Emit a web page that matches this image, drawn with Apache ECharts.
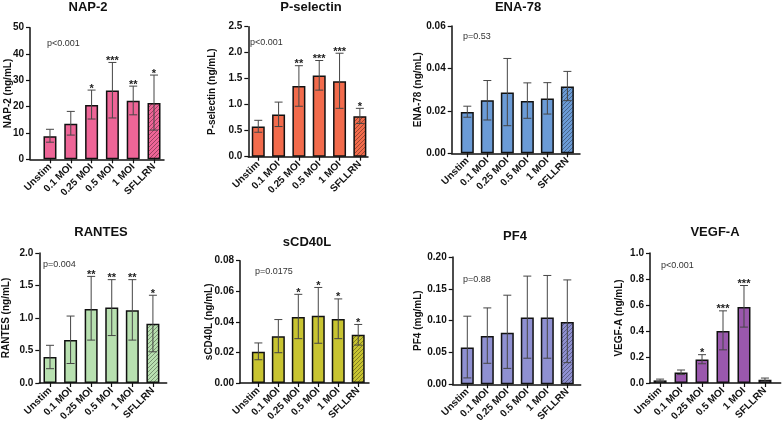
<!DOCTYPE html>
<html><head><meta charset="utf-8">
<script src="https://cdn.jsdelivr.net/npm/echarts@6/dist/echarts.min.js"></script>
<style>html,body{margin:0;padding:0;background:#fff}#c{width:782px;height:426px}</style>
</head><body><div id="c"></div><script>
const categories = ['Unstim', '0.1 MOI', '0.25 MOI', '0.5 MOI', '1 MOI', 'SFLLRN'];

const nap2Mean  = [8.8, 13.5, 20.6, 26.1, 22.2, 21.4];
const nap2Low   = [6.5, 9.2, 15.3, 15.7, 16.9, 11.1];
const nap2High  = [11.4, 18.2, 26.3, 36.8, 27.8, 32.0];
const nap2Stars = ['', '', '*', '***', '**', '*'];

const pselMean  = [0.58, 0.81, 1.36, 1.56, 1.45, 0.78];
const pselLow   = [0.47, 0.58, 0.97, 1.28, 0.93, 0.64];
const pselHigh  = [0.70, 1.05, 1.75, 1.85, 1.99, 0.93];
const pselStars = ['', '', '**', '***', '***', '*'];

const ena78Mean  = [0.0195, 0.0250, 0.0286, 0.0247, 0.0258, 0.0315];
const ena78Low   = [0.0170, 0.0157, 0.0130, 0.0165, 0.0185, 0.0248];
const ena78High  = [0.0222, 0.0343, 0.0447, 0.0332, 0.0333, 0.0386];
const ena78Stars = ['', '', '', '', '', ''];

const rantesMean  = [0.40, 0.66, 1.14, 1.16, 1.12, 0.91];
const rantesLow   = [0.22, 0.30, 0.66, 0.73, 0.66, 0.48];
const rantesHigh  = [0.58, 1.03, 1.64, 1.59, 1.59, 1.35];
const rantesStars = ['', '', '**', '**', '**', '*'];

const scd40lMean  = [0.0205, 0.0305, 0.0432, 0.0440, 0.0418, 0.0315];
const scd40lLow   = [0.0152, 0.0198, 0.0290, 0.0260, 0.0290, 0.0248];
const scd40lHigh  = [0.0262, 0.0415, 0.0580, 0.0625, 0.0550, 0.0383];
const scd40lStars = ['', '', '*', '*', '*', '*'];

const pf4Mean  = [0.058, 0.076, 0.081, 0.105, 0.105, 0.098];
const pf4Low   = [0.010, 0.033, 0.025, 0.041, 0.041, 0.034];
const pf4High  = [0.107, 0.120, 0.140, 0.170, 0.171, 0.164];
const pf4Stars = ['', '', '', '', '', ''];

const vegfMean  = [0.020, 0.080, 0.180, 0.400, 0.585, 0.025];
const vegfLow   = [0.010, 0.065, 0.148, 0.255, 0.430, 0.013];
const vegfHigh  = [0.030, 0.100, 0.218, 0.555, 0.750, 0.038];
const vegfStars = ['', '', '*', '***', '***', ''];

const FONT = '"Liberation Sans", Arial, Helvetica, sans-serif';

const panels = [
  {title:'NAP-2', yName:'NAP-2 (ng/mL)', mean:nap2Mean, low:nap2Low, high:nap2High, stars:nap2Stars, p:'p<0.001',
   color:'#ee6597', max:50, interval:10, dec:0, box:[30,164,27.7,159.3], xr:[-0.96,5.48], tPos:[88,1], pPos:[47,44], gap:16.5},
  {title:'P-selectin', yName:'P-selectin (ng/mL)', mean:pselMean, low:pselLow, high:pselHigh, stars:pselStars, p:'p<0.001',
   color:'#f26b4c', max:2.5, interval:0.5, dec:1, box:[248.3,368,26.7,156.7], xr:[-0.49,5.4], tPos:[311,1], pPos:[250,43], gap:31},
  {title:'ENA-78', yName:'ENA-78 (ng/mL)', mean:ena78Mean, low:ena78Low, high:ena78High, stars:ena78Stars, p:'p=0.53',
   color:'#6b9bd6', max:0.06, interval:0.02, dec:2, box:[451.7,580,26,153.3], xr:[-0.78,5.63], tPos:[518,1], pPos:[463,37], gap:28},
  {title:'RANTES', yName:'RANTES (ng/mL)', mean:rantesMean, low:rantesLow, high:rantesHigh, stars:rantesStars, p:'p=0.004',
   color:'#b8e0b0', max:2.0, interval:0.5, dec:1, box:[39.3,166.7,253,383], xr:[-0.52,5.67], tPos:[101,226], pPos:[43,265], gap:28.5},
  {title:'sCD40L', yName:'sCD40L (ng/mL)', mean:scd40lMean, low:scd40lLow, high:scd40lHigh, stars:scd40lStars, p:'p=0.0175',
   color:'#c8c431', max:0.08, interval:0.02, dec:2, box:[240,369,260.7,383], xr:[-0.92,5.54], tPos:[307,236], pPos:[255,272], gap:26},
  {title:'PF4', yName:'PF4 (mg/mL)', mean:pf4Mean, low:pf4Low, high:pf4High, stars:pf4Stars, p:'p=0.88',
   color:'#8f90d1', max:0.20, interval:0.05, dec:2, box:[452.7,580.7,257,384.3], xr:[-0.73,5.67], tPos:[515,230], pPos:[463,280], gap:29},
  {title:'VEGF-A', yName:'VEGF-A (ng/mL)', mean:vegfMean, low:vegfLow, high:vegfHigh, stars:vegfStars, p:'p<0.001',
   color:'#9a58ad', max:1.0, interval:0.2, dec:1, box:[650,780.7,253,383], xr:[-0.48,5.75], tPos:[715,226], pPos:[661,266], gap:26}
];

function darken(hex, f) {
  const n = parseInt(hex.slice(1), 16);
  const r = Math.round(((n >> 16) & 255) * f), g = Math.round(((n >> 8) & 255) * f), b = Math.round((n & 255) * f);
  return 'rgb(' + r + ',' + g + ',' + b + ')';
}
function hatch(base) {
  const c = document.createElement('canvas');
  c.width = 4; c.height = 4;
  const ctx = c.getContext('2d');
  ctx.fillStyle = base; ctx.fillRect(0, 0, 4, 4);
  ctx.strokeStyle = darken(base, 0.65); ctx.lineWidth = 1;
  ctx.beginPath();
  ctx.moveTo(0, 4); ctx.lineTo(4, 0);
  ctx.moveTo(-1, 1); ctx.lineTo(1, -1);
  ctx.moveTo(3, 5); ctx.lineTo(5, 3);
  ctx.stroke();
  return c;
}

const grid = [], xAxis = [], yAxis = [], series = [], title = [], graphic = [];
const idx = [0, 1, 2, 3, 4, 5];

panels.forEach((P, k) => {
  const [l, r, t, b] = P.box;
  grid.push({left: l, top: t, width: r - l, height: b - t, containLabel: false, outerBoundsMode: 'none'});
  xAxis.push({
    type: 'value', gridIndex: k, min: P.xr[0], max: P.xr[1],
    splitLine: {show: false},
    axisLine: {show: true, onZero: false, lineStyle: {color: '#111', width: 1.5}},
    axisTick: {show: true, inside: false, length: 4, customValues: idx, lineStyle: {color: '#111', width: 1.2}},
    axisLabel: {show: true, customValues: idx, rotate: 45, margin: 6, color: '#111',
      fontFamily: FONT, fontWeight: 'bold', fontSize: 10,
      formatter: v => categories[Math.round(v)] || ''}
  });
  yAxis.push({
    type: 'value', gridIndex: k, min: 0, max: P.max, interval: P.interval,
    splitLine: {show: false},
    axisLine: {show: true, onZero: false, lineStyle: {color: '#111', width: 1.5}},
    axisTick: {show: true, inside: false, length: 4, lineStyle: {color: '#111', width: 1.2}},
    axisLabel: {color: '#111', fontFamily: FONT, fontWeight: 'bold', fontSize: 10, margin: 6,
      formatter: v => v.toFixed(P.dec)},
    name: P.yName, nameLocation: 'middle', nameRotate: 90, nameGap: P.gap, nameMoveOverlap: false,
    nameTextStyle: {color: '#111', fontFamily: FONT, fontWeight: 'bold', fontSize: 10}
  });
  const pat = {image: hatch(P.color), repeat: 'repeat'};
  series.push({
    type: 'bar', xAxisIndex: k, yAxisIndex: k, barWidth: 13,
    itemStyle: {color: P.color, borderColor: '#111', borderWidth: 1.5},
    data: P.mean.map((v, i) => i === 5 ? {value: [i, v], itemStyle: {color: pat}} : {value: [i, v]}),
    silent: true, z: 2
  });
  const stars = P.stars;
  series.push({
    type: 'custom', xAxisIndex: k, yAxisIndex: k, z: 3, clip: false, silent: true,
    data: P.mean.map((v, i) => [i, v, P.low[i], P.high[i]]),
    renderItem: function (params, api) {
      const i = api.value(0), lo = api.value(2), hi = api.value(3);
      const a = api.coord([i, lo]), c = api.coord([i, hi]);
      const cw = 4;
      const st = {stroke: '#454545', lineWidth: 1};
      const ch = [
        {type: 'line', shape: {x1: a[0], y1: a[1], x2: c[0], y2: c[1]}, style: st},
        {type: 'line', shape: {x1: a[0] - cw, y1: a[1], x2: a[0] + cw, y2: a[1]}, style: st},
        {type: 'line', shape: {x1: c[0] - cw, y1: c[1], x2: c[0] + cw, y2: c[1]}, style: st}
      ];
      const s = stars[params.dataIndex];
      if (s) ch.push({type: 'text', style: {text: s, x: c[0], y: c[1] + 4, align: 'center', verticalAlign: 'bottom',
        font: 'bold 11px ' + FONT, fill: '#222'}});
      return {type: 'group', children: ch};
    }
  });
  title.push({text: P.title, left: P.tPos[0], top: P.tPos[1], textAlign: 'center', padding: 0,
    textStyle: {fontFamily: FONT, fontWeight: 'bold', fontSize: 13, color: '#111'}});
  graphic.push({type: 'text', x: P.pPos[0], y: P.pPos[1], silent: true,
    style: {text: P.p, verticalAlign: 'middle', font: '9px ' + FONT, fill: '#333'}});
});

const chart = echarts.init(document.getElementById('c'), null, {renderer: 'canvas'});
chart.setOption({animation: false, backgroundColor: '#fff', title, grid, xAxis, yAxis, series, graphic});
</script></body></html>
